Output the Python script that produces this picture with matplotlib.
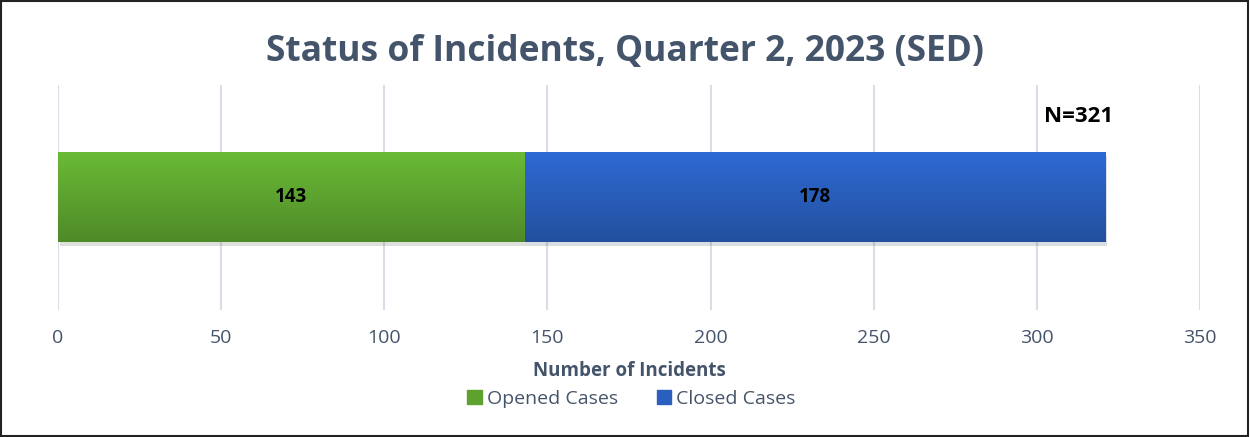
import numpy as np
import matplotlib
matplotlib.use("Agg")
import matplotlib.pyplot as plt
from matplotlib.colors import LinearSegmentedColormap
from matplotlib.patches import Rectangle
import matplotlib.patheffects as pe

# data
series = ["Opened Cases", "Closed Cases"]
values = [143, 178]
total_label = "N=321"
xticks = [0, 50, 100, 150, 200, 250, 300, 350]

grad_colors = [("#6bbb36", "#4f8a29"), ("#2e6ad4", "#22509e")]
legend_colors = ["#5ea12f", "#2a5fc0"]
txt_color = "#44546a"

plt.rcParams["font.family"] = ["Open Sans", "DejaVu Sans"]

fig = plt.figure(figsize=(12.5, 4.37), dpi=100)
ax = fig.add_axes([0.0464, 0.2906, 0.9136, 0.515])

left = 0
for i, (name, v) in enumerate(zip(series, values)):
    bar = ax.barh(0, v, left=left, height=0.4, color=legend_colors[i], label=name,
                  path_effects=[pe.SimplePatchShadow(offset=(1.5, -2.5), alpha=0.15), pe.Normal()],
                  zorder=3)[0]
    # vertical gradient clipped to the bar
    cmap = LinearSegmentedColormap.from_list("g%d" % i, [grad_colors[i][1], grad_colors[i][0]])
    grad = np.linspace(0, 1, 100).reshape(-1, 1)
    im = ax.imshow(grad, cmap=cmap, aspect="auto", origin="lower",
                   extent=[left, left + v, -0.2, 0.2], zorder=4)
    im.set_clip_path(bar)
    ax.text(left + v / 2, 0, str(v), ha="center", va="center", fontsize=13.5,
            fontweight="bold", color="black", zorder=5)
    left += v

ax.text(left + 2.5, 0.36, total_label, ha="right", va="center", fontsize=16,
        fontweight="bold", color="black")

ax.set_xlim(0, 350)
ax.set_ylim(-0.5, 0.5)
ax.set_xticks(xticks)
ax.set_yticks([])
ax.tick_params(axis="x", length=0, labelsize=14, labelcolor=txt_color, pad=14)
ax.grid(axis="x", color="#d9dee6", linewidth=1.5, zorder=0)
ax.set_axisbelow(True)
for s in ax.spines.values():
    s.set_visible(False)

ax.set_xlabel("Number of Incidents", fontsize=13.5, fontweight="bold", color=txt_color, labelpad=10)

handles = [Rectangle((0, 0), 1, 1, color=c) for c in legend_colors]
fig.legend(handles, series, loc="center", bbox_to_anchor=(0.505, 0.088), ncol=2, frameon=False,
           fontsize=14, labelcolor=txt_color, handlelength=0.75, handleheight=0.75,
           handletextpad=0.25, columnspacing=2.0, borderaxespad=0)

fig.text(0.5, 0.882, "Status of Incidents, Quarter 2, 2023 (SED)", ha="center", va="center",
         fontsize=25.5, fontweight="bold", color=txt_color)

fig.patches.append(Rectangle((0.001, 0.003), 0.997, 0.994, transform=fig.transFigure,
                             fill=False, edgecolor="#222222", linewidth=1.5))

fig.savefig("out.png", dpi=100)
